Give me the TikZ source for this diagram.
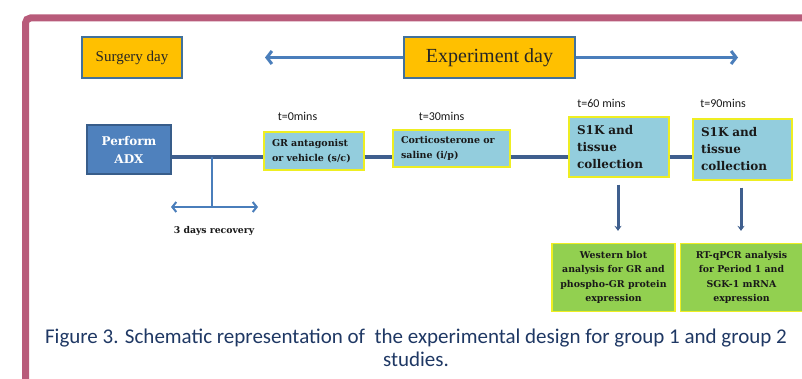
\documentclass[tikz,border=0pt]{standalone}
\usepackage{fontspec}
\usetikzlibrary{arrows.meta}
\setmainfont{Liberation Serif}
\newfontfamily\slabfont{DejaVu Serif}
\newfontfamily\calfont{Carlito}
\newcommand\fsz[2]{\fontsize{#1}{#2}\selectfont}

\definecolor{framepink}{HTML}{B85B7A}
\definecolor{amber}{HTML}{FFC000}
\definecolor{amberedge}{HTML}{41719C}
\definecolor{arrowblue}{HTML}{4A7EBB}
\definecolor{adxblue}{HTML}{4F81BD}
\definecolor{adxedge}{HTML}{385D8A}
\definecolor{timelinecol}{HTML}{3F5F8E}
\definecolor{paleblue}{HTML}{93CDDD}
\definecolor{limegreen}{HTML}{92D050}
\definecolor{edgeyellow}{HTML}{EEEE22}
\definecolor{captionblue}{HTML}{1F3864}

\tikzset{
  daybox/.style={draw=amberedge, line width=1.5pt, fill=amber, inner sep=0pt, text=black!85},
  adxbox/.style={draw=adxedge, line width=1.2pt, fill=adxblue, text=white,
    font=\slabfont\bfseries\fsz{12}{18}, align=center, inner sep=0pt},
  stagebox/.style={draw=edgeyellow, line width=1.2pt, fill=paleblue, inner xsep=8pt,
    inner ysep=0pt, align=left, text=black!90},
  resultbox/.style={draw=edgeyellow, line width=1.2pt, fill=limegreen, inner sep=0pt,
    align=center, text=black!90, font=\slabfont\bfseries\fsz{9.4}{14.5}},
  timelabel/.style={font=\calfont\fsz{12}{14}, inner sep=0pt, text=black!90},
  timeline/.style={draw=timelinecol, line width=3.5pt},
  dayarrow/.style={draw=arrowblue, line width=3pt, -{Straight Barb[length=5pt,width=13pt]}},
  recarrow/.style={draw=arrowblue, line width=2pt, {Straight Barb[length=4pt,width=10pt]}-{Straight Barb[length=4pt,width=10pt]}},
  downarrow/.style={draw=timelinecol, line width=3pt, -{Stealth[length=5pt,width=7pt]}},
}

\begin{document}
\begin{tikzpicture}[x=1pt, y=-1pt]
\useasboundingbox (0,0) rectangle (802,379);

% outer frame
\draw[framepink, line width=7pt, rounded corners=5pt] (25.5,379) -- (25.5,18) -- (802,18);

% day headers
\node[daybox, minimum width=100pt, minimum height=41pt, font=\fsz{15}{18}] (surgery) at (132,57.5) {Surgery day};
\node[daybox, minimum width=171pt, minimum height=41pt, font=\fsz{20}{24}] (exp) at (489.5,57.5) {Experiment day};
\coordinate (expL) at (265,57.5);
\coordinate (expR) at (738,57.5);
\draw[dayarrow] (exp.west) -- (expL);
\draw[dayarrow] (exp.east) -- (expR);

% timeline level
\coordinate (tl) at (0,157);

% stages
\node[adxbox, minimum width=84pt, minimum height=49pt] (adx) at (129,149.5) {Perform\\ADX};
\node[stagebox, text width=84pt, minimum height=38pt, font=\slabfont\bfseries\fsz{9.5}{15.5}] (gr) at (314,151)
  {GR antagonist\\or vehicle (s/c)};
\node[stagebox, text width=101pt, minimum height=37pt, font=\slabfont\bfseries\fsz{9.5}{15.5}] (cort) at (451.5,148.5)
  {Corticosterone or\\saline (i/p)};
\node[stagebox, text width=84pt, minimum height=60pt, font=\slabfont\bfseries\fsz{12}{17}] (s1) at (619,147)
  {S1K and\\tissue\\collection};
\node[stagebox, text width=83pt, minimum height=61pt, font=\slabfont\bfseries\fsz{12}{17}] (s2) at (742.5,149.5)
  {S1K and\\tissue\\collection};

% time labels
\node[timelabel] (t0) at (297.5,116) {t=0mins};
\node[timelabel] (t30) at (441.5,116) {t=30mins};
\node[timelabel] (t60) at (601.5,103) {t=60 mins};
\node[timelabel] (t90) at (723,103) {t=90mins};

% timeline segments
\draw[timeline] (adx.east |- tl) -- (gr.west |- tl);
\draw[timeline] (gr.east |- tl) -- (cort.west |- tl);
\draw[timeline] (cort.east |- tl) -- (s1.west |- tl);
\draw[timeline] (s1.east |- tl) -- (s2.west |- tl);

% recovery period
\coordinate (recTop) at (212,157);
\coordinate (recMid) at (212,207);
\coordinate (recL) at (171,207);
\coordinate (recR) at (258,207);
\draw[draw=arrowblue, line width=2pt] (recTop) -- (recMid);
\draw[recarrow] (recL) -- (recR);
\node[font=\slabfont\bfseries\fsz{9.3}{12}, text=black!90, inner sep=0pt] (rec) at (214,231) {3 days recovery};

% analyses
\node[resultbox, minimum width=123pt, minimum height=68pt] (wb) at (613.5,277.5)
  {Western blot\\analysis for GR and\\phospho-GR protein\\expression};
\node[resultbox, minimum width=122pt, minimum height=68pt] (rt) at (741.5,277.5)
  {RT-qPCR analysis\\for Period 1 and\\SGK-1 mRNA\\expression};
\draw[downarrow, shorten <=7pt, shorten >=12pt] (s1.south -| 618,0) -- (wb.north -| 618,0);
\draw[downarrow, shorten <=7pt, shorten >=12pt] (s2.south -| 741,0) -- (rt.north -| 741,0);

% caption
\node[font=\calfont\fsz{21}{23}, text=captionblue, align=center, inner sep=0pt] (caption) at (416,348)
  {Figure 3. Schematic representation of\ \ the experimental design for group 1 and group 2\\studies.};
\end{tikzpicture}
\end{document}
